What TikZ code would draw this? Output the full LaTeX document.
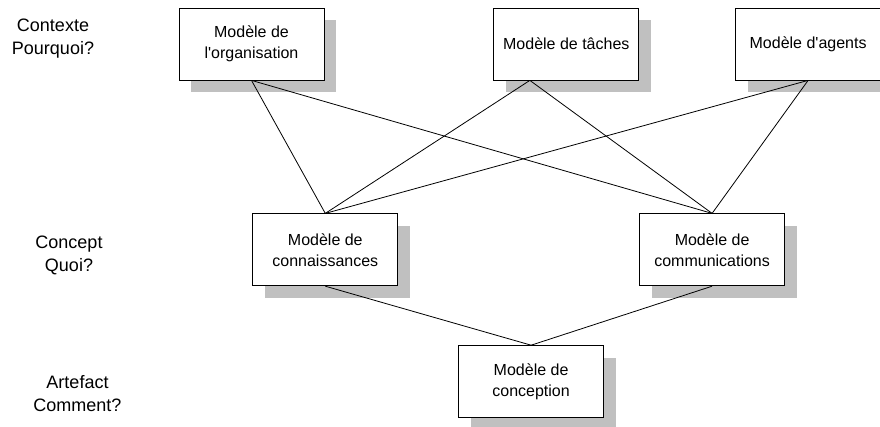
\documentclass[tikz,border=0pt]{standalone}
\usepackage{fontspec}
\setmainfont{Liberation Sans}
\usepackage{xcolor}
\usepackage{tikz}
\usetikzlibrary{positioning, shadows, calc}
\definecolor{ombre}{RGB}{192, 192, 192}

\begin{document}
\begin{tikzpicture}[
    x=1pt, y=1pt,
    modele/.style={rectangle, draw=black, fill=white, line width=0.8pt, minimum width=145pt, minimum height=72pt, inner sep=0pt, align=center, font=\fontsize{16}{21}\selectfont,
        drop shadow={shadow xshift=12pt, shadow yshift=-12pt, fill=ombre, opacity=1}},
    niveau/.style={align=center, font=\fontsize{18}{23}\selectfont},
    lien/.style={line width=0.8pt, draw=black}
]
    \useasboundingbox (0,0) rectangle (880,427);

    % Niveaux
    \node[niveau] (contexte) at (53,388.5) {Contexte\\Pourquoi?};
    \node[niveau] (concept) at (69,172) {Concept\\Quoi?};
    \node[niveau] (artefact) at (77.5,33.5) {Artefact\\Comment?};

    % Modeles
    \node[modele] (org) at (251.5,383) {Modèle de\\l\textquotesingle organisation};
    \node[modele, right=169pt of org] (taches) {Modèle de tâches};
    \node[modele, right=96pt of taches] (agents) {Modèle d\textquotesingle agents};

    \node[modele, below right=133pt and -72pt of org] (conn) {Modèle de\\connaissances};
    \node[modele, right=241pt of conn] (comm) {Modèle de\\communications};

    \node[modele, below right=59pt and 60pt of conn] (conc) {Modèle de\\conception};

    \coordinate (tachesbas) at ($(taches.south west)!0.25!(taches.south east)$);

    % Liens
    \draw[lien] (org.south) -- (conn.north);
    \draw[lien] (org.south) -- (comm.north);
    \draw[lien] (tachesbas) -- (conn.north);
    \draw[lien] (tachesbas) -- (comm.north);
    \draw[lien] (agents.south) -- (conn.north);
    \draw[lien] (agents.south) -- (comm.north);
    \draw[lien] (conn.south) -- (conc.north);
    \draw[lien] (comm.south) -- (conc.north);
\end{tikzpicture}
\end{document}
